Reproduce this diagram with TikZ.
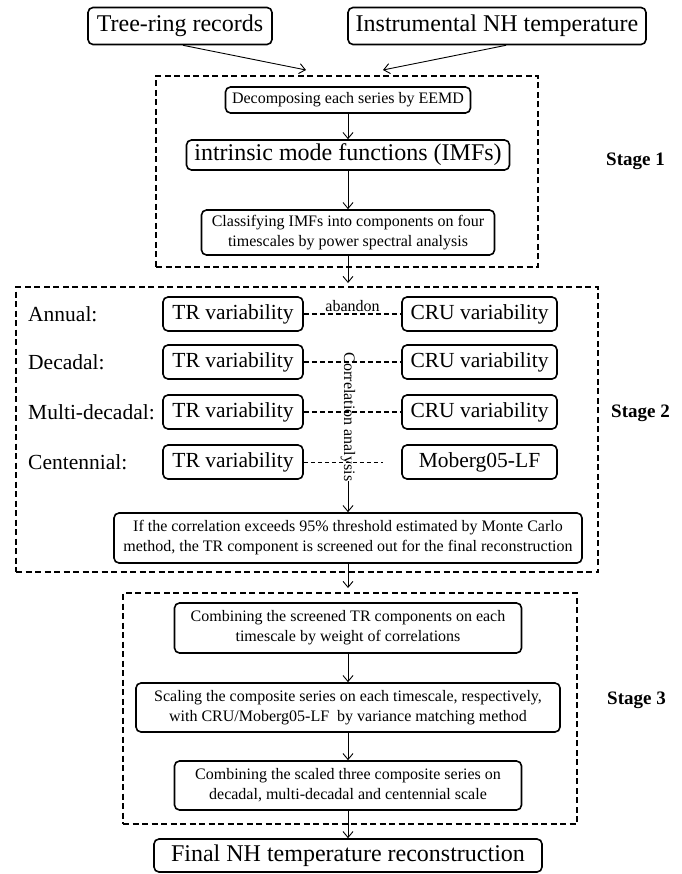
\documentclass[tikz,border=0pt]{standalone}
\usepackage{fontspec}
\setmainfont{Liberation Serif}
\usetikzlibrary{arrows.meta}
\begin{document}
\begin{tikzpicture}[x=1pt,y=-1pt,
 box/.style={draw,line width=1.6pt,rounded corners=5pt,inner sep=0pt,align=center},
 stagebox/.style={draw,line width=1.5pt,dash pattern=on 6pt off 3.5pt,inner sep=0pt},
 arr/.style={-{Straight Barb[length=6pt,width=10pt]},line width=0.9pt},
 link/.style={line width=1.2pt,dash pattern=on 5pt off 3pt},
 big/.style={font=\fontsize{24}{28}\selectfont},
 mid/.style={font=\fontsize{21.5}{25}\selectfont},
 small/.style={font=\fontsize{16}{20}\selectfont},
 stagelbl/.style={font=\fontsize{19}{23}\selectfont\bfseries,anchor=west,inner sep=0pt}]
\fill[white] (0,0) rectangle (681,874);
\useasboundingbox (0,0) rectangle (681,874);

% top inputs
\node[box,big,minimum width=184pt,minimum height=37pt] (tree) at (180,26) {Tree-ring records};
\node[box,big,minimum width=298pt,minimum height=37pt] (inst) at (497,26) {Instrumental NH temperature};
\coordinate (t1) at (306,70);
\coordinate (t2) at (383,70);
\draw[arr] ([xshift=3pt]tree.south) -- (t1);
\draw[arr] ([xshift=9pt]inst.south) -- (t2);

% stage 1
\node[stagebox,minimum width=382pt,minimum height=191pt] (s1) at (347,171.5) {};
\node[box,small,minimum width=245pt,minimum height=26pt] (dec) at (348,100) {Decomposing each series by EEMD};
\node[box,big,minimum width=323pt,minimum height=30pt] (imf) at (348,155) {intrinsic mode functions (IMFs)};
\node[box,small,minimum width=293pt,minimum height=45pt] (cls) at (348,232.5) {Classifying IMFs into components on four\\timescales by power spectral analysis};
\node[stagelbl] (st1) at (606,161) {Stage 1};
\draw[arr] (dec) -- (imf);
\draw[arr] (imf) -- (cls);
\coordinate (in2) at (348,283);
\draw[arr] (cls) -- (in2);

% stage 2
\node[stagebox,minimum width=582pt,minimum height=285pt] (s2) at (307,429.5) {};
\node[stagelbl] (st2) at (611,413) {Stage 2};
\node[mid,anchor=west,inner sep=0pt] (la1) at (28,314) {Annual:};
\node[mid,anchor=west,inner sep=0pt] (la2) at (28,362) {Decadal:};
\node[mid,anchor=west,inner sep=0pt] (la3) at (28,412) {Multi-decadal:};
\node[mid,anchor=west,inner sep=0pt] (la4) at (28,462) {Centennial:};
\foreach \i/\y in {1/314,2/362,3/412,4/462}{
  \node[box,mid,minimum width=140pt,minimum height=34pt] (tr\i) at (233,\y) {TR variability};
}
\foreach \i/\y in {1/314,2/362,3/412}{
  \node[box,mid,minimum width=155pt,minimum height=34pt] (cru\i) at (479.5,\y) {CRU variability};
}
\node[box,mid,minimum width=155pt,minimum height=34pt] (mob) at (479.5,462) {Moberg05-LF};
\draw[link] (tr1) -- node[small,midway,above,inner sep=1.5pt] (ab) {abandon} (cru1);
\draw[link] (tr2) -- (cru2);
\draw[link] (tr3) -- (cru3);
\coordinate (c4) at (383,462);
\draw[link,line width=1pt,dash pattern=on 4pt off 3pt] (tr4.east) -- (c4);
\node[small,rotate=-90,inner sep=0pt] (corr) at (348,417) {Correlation analysis};
\node[box,small,minimum width=468pt,minimum height=50pt] (cbox) at (348,538) {If the correlation exceeds 95\% threshold estimated by Monte Carlo\\method, the TR component is screened out for the final reconstruction};
\draw[arr] (corr.east) -- (cbox.north);
\coordinate (in3) at (348,588);
\draw[arr] (cbox) -- (in3);

% stage 3
\node[stagebox,minimum width=454pt,minimum height=231pt] (s3) at (350,708.5) {};
\node[stagelbl] (st3) at (607,700) {Stage 3};
\node[box,small,minimum width=347pt,minimum height=50pt] (b1) at (348,628) {Combining the screened TR components on each\\timescale by weight of correlations};
\node[box,small,minimum width=424pt,minimum height=49pt] (b2) at (348,707.5) {Scaling the composite series on each timescale, respectively,\\with CRU/Moberg05-LF\ \ by variance matching method};
\node[box,small,minimum width=347pt,minimum height=49pt] (b3) at (348,785.5) {Combining the scaled three composite series on\\decadal, multi-decadal and centennial scale};
\node[box,big,minimum width=388pt,minimum height=33pt] (fin) at (348,855.5) {Final NH temperature reconstruction};
\draw[arr] (b1) -- (b2);
\draw[arr] (b2) -- (b3);
\draw[arr] (b3) -- (fin);
\end{tikzpicture}
\end{document}
